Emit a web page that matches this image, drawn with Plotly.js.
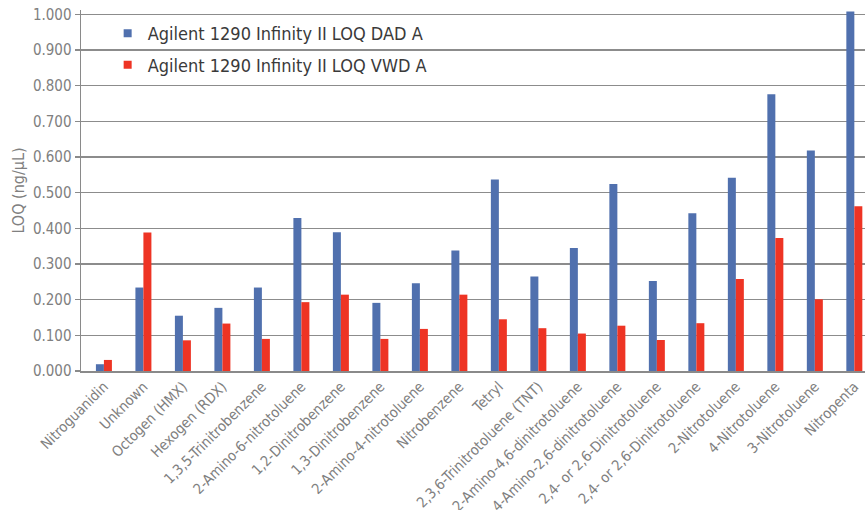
<!DOCTYPE html>
<html>
<head>
<meta charset="utf-8">
<script src="https://cdn.plot.ly/plotly-3.0.1.min.js"></script>
<style>html,body{margin:0;padding:0;background:#fff}#chart{width:865px;height:510px}</style>
</head>
<body>
<div id="chart"></div>
<script>
const categories = [
  "Nitroguanidin", "Unknown", "Octogen (HMX)", "Hexogen (RDX)", "1,3,5-Trinitrobenzene",
  "2-Amino-6-nitrotoluene", "1,2-Dinitrobenzene", "1,3-Dinitrobenzene", "2-Amino-4-nitrotoluene",
  "Nitrobenzene", "Tetryl", "2,3,6-Trinitrotoluene (TNT)", "2-Amino-4,6-dinitrotoluene",
  "4-Amino-2,6-dinitrotoluene", "2,4- or 2,6-Dinitrotoluene", "2,4- or 2,6-Dinitrotoluene",
  "2-Nitrotoluene", "4-Nitrotoluene", "3-Nitrotoluene", "Nitropenta"
];
const dadValues = [0.019, 0.234, 0.155, 0.177, 0.234, 0.429, 0.389, 0.191, 0.246, 0.338,
  0.537, 0.265, 0.345, 0.524, 0.252, 0.442, 0.542, 0.776, 0.618, 1.008];
const vwdValues = [0.031, 0.388, 0.086, 0.133, 0.090, 0.193, 0.214, 0.090, 0.118, 0.214,
  0.145, 0.120, 0.105, 0.127, 0.087, 0.134, 0.258, 0.373, 0.201, 0.462];
const seriesNames = ["Agilent 1290 Infinity II LOQ DAD A", "Agilent 1290 Infinity II LOQ VWD A"];
const yTickVals = [0, 0.1, 0.2, 0.3, 0.4, 0.5, 0.6, 0.7, 0.8, 0.9, 1.0];

const BLUE = "#5070ae", RED = "#ee3424";
const FONT = "'DejaVu Sans Condensed', 'Liberation Sans Narrow', 'DejaVu Sans', sans-serif";
const xIdx = categories.map((c, i) => i);

const traces = [
  {type: "bar", x: xIdx, y: dadValues, name: seriesNames[0], marker: {color: BLUE}, showlegend: false},
  {type: "bar", x: xIdx, y: vwdValues, name: seriesNames[1], marker: {color: RED}, showlegend: false},
  {type: "scatter", mode: "markers", x: [null], y: [null], name: seriesNames[0], legendgroup: "a",
   marker: {symbol: "square", size: 8, color: BLUE}},
  {type: "scatter", mode: "markers", x: [null], y: [null], name: seriesNames[1], legendgroup: "b",
   marker: {symbol: "square", size: 8, color: RED}}
];

const layout = {
  width: 865, height: 510,
  margin: {l: 81, r: 0, t: 10, b: 139},
  paper_bgcolor: "#fff", plot_bgcolor: "#fff",
  barmode: "group", bargap: 0.595, bargroupgap: 0,
  font: {family: FONT, color: "#808080"},
  showlegend: true,
  legend: {x: 0.034, y: 0.986, xanchor: "left", yanchor: "top", bgcolor: "rgba(0,0,0,0)",
    font: {family: FONT, size: 18, color: "#3a3a3a"}, traceorder: "grouped", tracegroupgap: 5},
  xaxis: {
    range: [-0.58, 19.27], tickmode: "array", tickvals: xIdx, ticktext: categories,
    tickangle: -45, tickfont: {family: FONT, size: 14.5, color: "#808080"},
    showgrid: false, zeroline: false, showline: true, linecolor: "#8a8a8a", linewidth: 1.5,
    ticks: "", fixedrange: true
  },
  yaxis: {
    range: [0, 1.012], tickmode: "array", tickvals: yTickVals, tickformat: ".3f",
    tickfont: {family: FONT, size: 15, color: "#808080"},
    showgrid: true, gridcolor: "#8c8c8c", gridwidth: 1.5, zeroline: false,
    showline: true, linecolor: "#8a8a8a", linewidth: 1.5,
    ticks: "outside", ticklen: 5, tickcolor: "#8a8a8a", tickwidth: 1.5,
    title: {text: "LOQ (ng/µL)", font: {family: FONT, size: 16, color: "#808080"}, standoff: 4}
  }
};

Plotly.newPlot("chart", traces, layout, {displayModeBar: false, staticPlot: true});
</script>
</body>
</html>
